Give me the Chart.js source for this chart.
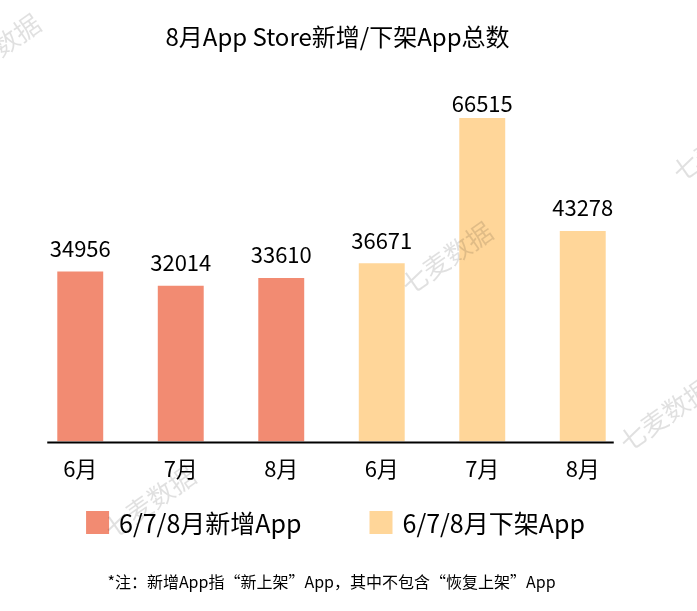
<!DOCTYPE html>
<html>
<head>
<meta charset="utf-8">
<script src="https://cdn.jsdelivr.net/npm/chart.js@4/dist/chart.umd.min.js"></script>
<style>
  html, body { margin: 0; background: #fff; }
  #wrap { width: 697px; height: 611px; position: relative; }
</style>
</head>
<body>
<div id="wrap"><canvas id="grafico"></canvas></div>
<script>
const meses = ['6月', '7月', '8月', '6月', '7月', '8月'];
const novos = [34956, 32014, 33610, null, null, null];
const removidos = [null, null, null, 36671, 66515, 43278];
const nomes = ['6/7/8月新增App', '6/7/8月下架App'];
const cores = ['#F28B72', '#FFD699'];
const titulo = '8月App Store新增/下架App总数';
const nota = '*注：新增App指“新上架”App，其中不包含“恢复上架”App';
const marca = '七麦数据';
const fonte = '"Noto Sans CJK SC", "Noto Sans", sans-serif';

// marcas d'água, texto do gráfico, eixo e legenda desenhados à mão
const extras = {
  id: 'extras',
  afterDatasetsDraw(chart) {
    const ctx = chart.ctx;
    const area = chart.chartArea;
    const xs = chart.scales.x;
    const centro = (area.left + area.right) / 2 + 4;
    ctx.save();

    // valores em cima das barras
    ctx.font = '22px ' + fonte;
    ctx.fillStyle = '#000';
    ctx.textAlign = 'center';
    ctx.textBaseline = 'bottom';
    chart.data.datasets.forEach((ds, i) => {
      chart.getDatasetMeta(i).data.forEach((bar, j) => {
        if (ds.data[j] == null) return;
        ctx.fillText(String(ds.data[j]), bar.x, Math.max(bar.y - 12, area.top + 14));
      });
    });

    // linha do eixo x
    ctx.strokeStyle = '#000';
    ctx.lineWidth = 2;
    ctx.beginPath();
    ctx.moveTo(xs.getPixelForValue(0) - 33, area.bottom + 1);
    ctx.lineTo(xs.getPixelForValue(meses.length - 1) + 31, area.bottom + 1);
    ctx.stroke();

    // título
    ctx.font = '24px ' + fonte;
    ctx.textBaseline = 'middle';
    ctx.fillText(titulo, centro + 2, 37);

    // legenda
    ctx.font = '25px ' + fonte;
    const caixa = 23, espaco = 10, gap = 68;
    const larg = nomes.map(n => caixa + espaco + ctx.measureText(n).width);
    let x = centro - (larg[0] + larg[1] + gap) / 2;
    ctx.textAlign = 'left';
    nomes.forEach((n, i) => {
      ctx.fillStyle = cores[i];
      ctx.fillRect(x, 511, caixa, caixa);
      ctx.fillStyle = '#000';
      ctx.fillText(n, x + caixa + espaco, 523);
      x += larg[i] + gap;
    });

    // nota de rodapé
    ctx.font = '16px ' + fonte;
    ctx.textAlign = 'center';
    ctx.fillText(nota, centro - 4, 582);

    // marcas d'água
    ctx.font = '26px ' + fonte;
    ctx.fillStyle = 'rgba(0,0,0,0.12)';
    ctx.textAlign = 'center';
    ctx.textBaseline = 'middle';
    [[447, 258], [150, 502], [718, 145], [665, 415], [-5, 50]].forEach(([mx, my]) => {
      ctx.save();
      ctx.translate(mx, my);
      ctx.rotate(-35 * Math.PI / 180);
      ctx.fillText(marca, 0, 0);
      ctx.restore();
    });
    ctx.restore();
  }
};

new Chart(document.getElementById('grafico'), {
  type: 'bar',
  data: {
    labels: meses,
    datasets: [
      { label: nomes[0], data: novos, backgroundColor: cores[0] },
      { label: nomes[1], data: removidos, backgroundColor: cores[1] }
    ]
  },
  options: {
    responsive: true,
    maintainAspectRatio: false,
    animation: false,
    grouped: false,
    barPercentage: 0.457,
    categoryPercentage: 1,
    layout: { padding: { top: 101, left: 30, right: 64, bottom: 115 } },
    plugins: {
      legend: { display: false },
      title: { display: false },
      tooltip: { enabled: false }
    },
    scales: {
      x: {
        grid: { display: false, drawTicks: false },
        border: { display: false },
        ticks: { color: '#000', font: { size: 22, family: fonte }, padding: 14 }
      },
      y: { display: false, min: 0, max: 70000 }
    }
  },
  plugins: [extras]
});
</script>
</body>
</html>
